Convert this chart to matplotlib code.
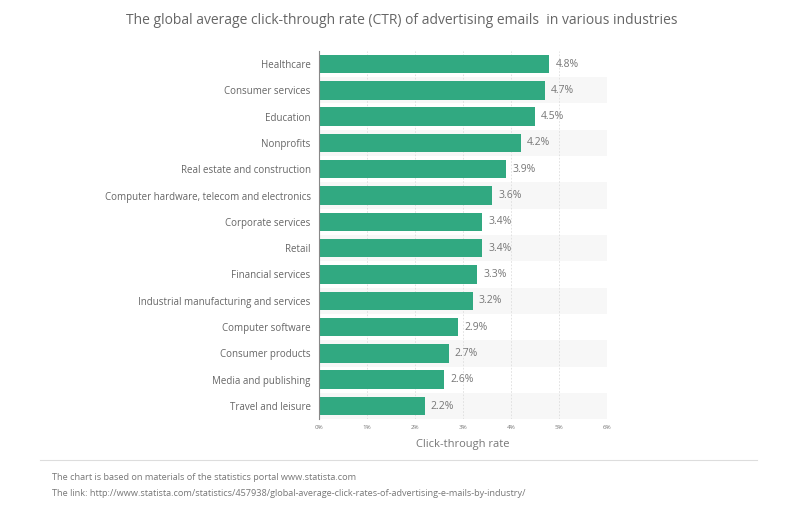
import matplotlib.pyplot as plt

industries = ["Healthcare", "Consumer services", "Education", "Nonprofits",
              "Real estate and construction", "Computer hardware, telecom and electronics",
              "Corporate services", "Retail", "Financial services",
              "Industrial manufacturing and services", "Computer software",
              "Consumer products", "Media and publishing", "Travel and leisure"]
ctr = [4.8, 4.7, 4.5, 4.2, 3.9, 3.6, 3.4, 3.4, 3.3, 3.2, 2.9, 2.7, 2.6, 2.2]
x_ticks = [0, 1, 2, 3, 4, 5, 6]

plt.rcParams['font.family'] = ['Open Sans', 'DejaVu Sans']
text_col = '#777777'

fig = plt.figure(figsize=(7.98, 5.09), dpi=100)
ax = fig.add_axes([0.3997, 0.1765, 0.361, 0.7236])

n = len(industries)
pos = list(range(n))
for i in pos:
    if i % 2 == 1:
        ax.axhspan(i - 0.5, i + 0.5, color='#f7f7f7', zorder=0, lw=0)

ax.barh(pos, ctr, height=0.7, color='#31a981', zorder=3)
for i, v in zip(pos, ctr):
    ax.text(v + 0.13, i, f"{v}%", va='center', ha='left', fontsize=7.5, color=text_col, zorder=4)

ax.set_xlim(0, 6)
ax.set_ylim(n - 0.5, -0.5)
ax.set_xticks(x_ticks)
ax.set_xticklabels([f"{t}%" for t in x_ticks], fontsize=4.5, color=text_col)
ax.set_yticks(pos)
ax.set_yticklabels(industries, fontsize=7.05, color='#666666')
ax.tick_params(axis='both', length=0)
ax.tick_params(axis='y', pad=6)
ax.tick_params(axis='x', pad=4)
ax.grid(axis='x', color='#dddddd', linestyle=(0, (2, 2)), linewidth=0.6, zorder=1)
for s in ['top', 'right', 'bottom']:
    ax.spines[s].set_visible(False)
ax.spines['left'].set_color('#888888')
ax.spines['left'].set_linewidth(0.8)
ax.spines['left'].set_zorder(5)
ax.set_xlabel("Click-through rate", fontsize=8, color=text_col, labelpad=7)

fig.text(0.504, 1 - 20 / 509, "The global average click-through rate (CTR) of advertising emails  in various industries",
         ha='center', va='center', fontsize=10, color='#666666')

fig.add_artist(plt.Line2D([40 / 798, 757 / 798], [1 - 460 / 509, 1 - 460 / 509],
                          color='#dddddd', linewidth=0.8))
fig.text(52 / 798, 1 - 478 / 509, "The chart is based on materials of the statistics portal www.statista.com",
         ha='left', va='center', fontsize=6.6, color=text_col)
fig.text(52 / 798, 1 - 493 / 509,
         "The link: http://www.statista.com/statistics/457938/global-average-click-rates-of-advertising-e-mails-by-industry/",
         ha='left', va='center', fontsize=6.6, color=text_col)

fig.savefig("out.png", dpi=100)
